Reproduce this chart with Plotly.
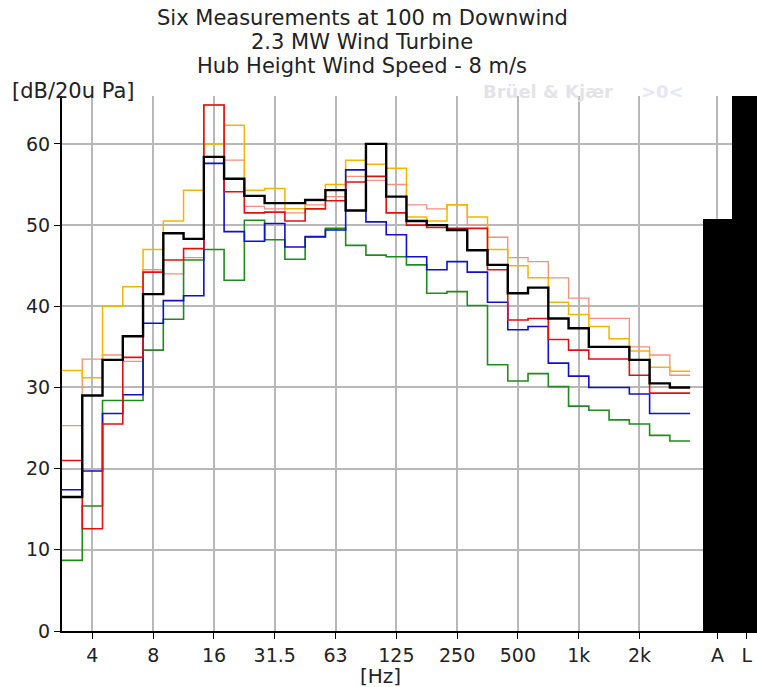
import plotly.graph_objects as go

# 1/3-octave band centre frequencies (Hz)
bands = ["3.15", "4", "5", "6.3", "8", "10", "12.5", "16", "20", "25", "31.5",
         "40", "50", "63", "80", "100", "125", "160", "200", "250", "315",
         "400", "500", "630", "800", "1k", "1.25k", "1.6k", "2k", "2.5k", "3.15k"]
tick_labels = ["4", "8", "16", "31.5", "63", "125", "250", "500", "1k", "2k"]

# Sound pressure level [dB re 20 uPa] per band, six measurements
black = [16.5, 29.0, 33.4, 36.3, 41.5, 49.0, 48.3, 58.4, 55.7, 53.6, 52.7,
         52.7, 53.1, 54.3, 51.8, 60.0, 53.5, 50.5, 50.0, 49.4, 46.9,
         45.1, 41.6, 42.3, 38.5, 37.3, 35.0, 35.0, 33.4, 30.5, 30.0]
red = [21.0, 12.6, 25.5, 33.7, 44.2, 45.7, 47.1, 64.8, 54.1, 51.5, 51.6,
       50.5, 52.0, 53.0, 55.3, 56.0, 51.5, 50.0, 49.7, 49.6, 49.6,
       44.5, 38.3, 38.5, 35.9, 34.6, 33.5, 33.5, 31.5, 29.3, 29.3]
blue = [17.4, 19.7, 26.8, 29.1, 37.9, 40.7, 41.3, 57.6, 49.2, 48.0, 50.2,
        47.3, 48.6, 49.4, 56.8, 50.4, 48.8, 46.1, 44.5, 45.5, 44.2,
        40.5, 37.1, 37.5, 33.0, 31.4, 30.0, 30.0, 29.2, 26.8, 26.8]
green = [8.7, 15.4, 28.4, 28.4, 34.6, 38.4, 45.7, 47.0, 43.2, 50.6, 48.2,
         45.8, 48.5, 49.6, 47.5, 46.3, 46.1, 45.1, 41.6, 41.8, 40.1,
         32.8, 30.8, 31.7, 30.1, 27.7, 27.2, 26.0, 25.5, 24.1, 23.4]
gold = [32.1, 31.2, 40.0, 42.4, 47.0, 50.5, 54.3, 60.0, 62.3, 54.3, 54.5,
        52.0, 53.0, 55.0, 58.0, 57.5, 57.0, 51.0, 50.5, 52.5, 51.0,
        47.0, 45.0, 43.5, 40.5, 39.0, 37.5, 36.0, 34.5, 32.5, 32.0]
salmon = [25.3, 33.5, 34.0, 33.2, 44.5, 44.0, 46.0, 64.8, 58.0, 52.3, 52.0,
          51.5, 52.5, 53.5, 56.0, 55.5, 55.0, 52.5, 52.0, 52.5, 50.0,
          48.5, 46.0, 45.5, 43.5, 41.0, 38.5, 38.5, 35.0, 34.0, 31.5]

# Overall levels: A-weighted and Linear
overall_labels = ["A", "L"]
overall_values = [50.7, 65.9]

n = len(bands)
edges = [i - 0.5 for i in range(n)] + [n - 0.5]
overall_pos = [n + 0.85, n + 2.3]


def step(vals):
    return list(vals) + [vals[-1]]


fig = go.Figure()

fig.add_trace(go.Bar(x=overall_pos, y=overall_values, width=1.43,
                     marker=dict(color="black", line=dict(width=0)),
                     showlegend=False, hoverinfo="skip"))

series = [
    (salmon, "#f4907c", 1.3),
    (gold, "#f2b600", 1.5),
    (green, "#1f8a1f", 1.6),
    (blue, "#1010c8", 1.6),
    (red, "#e01010", 1.6),
    (black, "#000000", 2.4),
]
for vals, col, w in series:
    fig.add_trace(go.Scatter(x=edges, y=step(vals), mode="lines",
                             line=dict(color=col, width=w, shape="hv"),
                             showlegend=False, hoverinfo="skip"))

tickvals = [bands.index(t) for t in tick_labels] + overall_pos
ticktext = tick_labels + overall_labels

font_family = "DejaVu Sans, Verdana, sans-serif"
txt = "#222222"

fig.update_layout(
    width=757, height=687,
    margin=dict(l=62, r=0, t=96, b=56),
    paper_bgcolor="white", plot_bgcolor="white",
    font=dict(family=font_family, size=19, color=txt),
    bargap=0,
    xaxis=dict(range=[-0.5, n + 2.8], tickvals=tickvals, ticktext=ticktext,
               showgrid=True, gridcolor="#b8b8b8", gridwidth=1.5,
               showline=True, linecolor="black", linewidth=2,
               ticks="outside", ticklen=6, tickcolor="black",
               tickfont=dict(size=19), zeroline=False, fixedrange=True),
    yaxis=dict(range=[0, 65.9], dtick=10, tick0=0,
               showgrid=True, gridcolor="#b8b8b8", gridwidth=1.5,
               showline=True, linecolor="black", linewidth=2,
               ticks="outside", ticklen=6, tickcolor="black",
               tickfont=dict(size=19), zeroline=False, fixedrange=True),
)

title_lines = ["Six Measurements at 100 m Downwind",
               "2.3 MW Wind Turbine",
               "Hub Height Wind Speed - 8 m/s"]
for k, t in enumerate(title_lines):
    fig.add_annotation(text=t, xref="paper", yref="paper",
                       x=(362 - 62) / 695, y=1 + (96 - (18 + 24 * k)) / 535,
                       xanchor="center", yanchor="middle", showarrow=False,
                       font=dict(family=font_family, size=21, color=txt))

fig.add_annotation(text="[dB/20u Pa]", xref="paper", yref="paper",
                   x=-(62 - 10) / 695, y=1 + (96 - 91) / 535,
                   xanchor="left", yanchor="middle", showarrow=False,
                   font=dict(family=font_family, size=21, color=txt))
fig.add_annotation(text="[Hz]", xref="paper", yref="paper",
                   x=(380 - 62) / 695, y=-(676 - 631) / 535,
                   xanchor="center", yanchor="middle", showarrow=False,
                   font=dict(family=font_family, size=20, color=txt))
fig.add_annotation(text="<b>Brüel & Kjær</b>", xref="paper", yref="paper",
                   x=(548 - 62) / 695, y=1 + (96 - 92) / 535,
                   xanchor="center", yanchor="middle", showarrow=False,
                   font=dict(family=font_family, size=18, color="#e4e4e8"))
fig.add_annotation(text="<b>>0<</b>", xref="paper", yref="paper",
                   x=(662 - 62) / 695, y=1 + (96 - 92) / 535,
                   xanchor="center", yanchor="middle", showarrow=False,
                   font=dict(family=font_family, size=18, color="#e6e6f6"))

fig.write_html("out.html")
